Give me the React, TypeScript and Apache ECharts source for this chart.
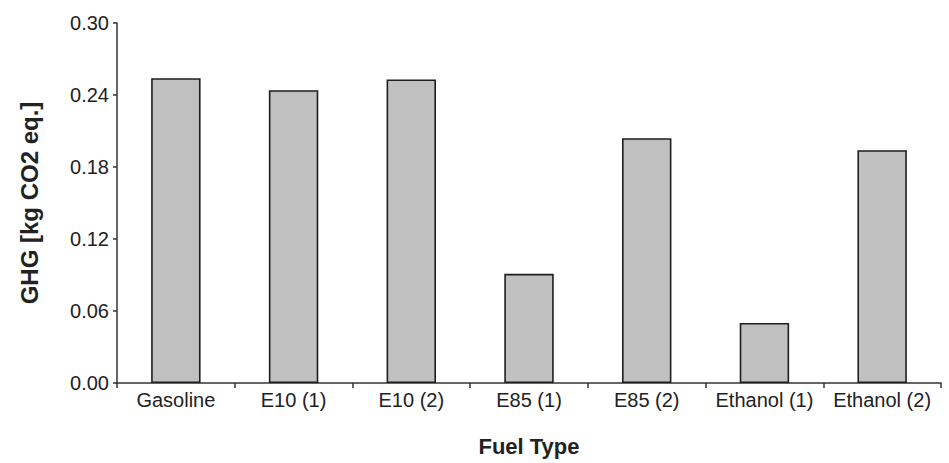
import React, { useEffect, useRef } from "react";
import * as echarts from "echarts";

const categories = ["Gasoline", "E10 (1)", "E10 (2)", "E85 (1)", "E85 (2)", "Ethanol (1)", "Ethanol (2)"];
const ghgValues = [0.254, 0.244, 0.253, 0.091, 0.204, 0.05, 0.194];
const yTicks = { min: 0, max: 0.3, interval: 0.06 };

export default function App() {
  const ref = useRef<HTMLDivElement>(null);
  useEffect(() => {
    if (!ref.current) return;
    const chart = echarts.init(ref.current, undefined, { renderer: "svg" });
    const font = "'Liberation Sans', Arial, sans-serif";
    chart.setOption({
      animation: false,
      backgroundColor: "#ffffff",
      grid: { left: 117, right: 8, top: 23, bottom: 80 },
      xAxis: {
        type: "category",
        data: categories,
        name: "Fuel Type",
        nameLocation: "middle",
        nameGap: 52,
        nameTextStyle: { fontFamily: font, fontSize: 22, fontWeight: "bold", color: "#222" },
        axisLine: { lineStyle: { color: "#333", width: 1.5 } },
        axisTick: { show: true, length: 5, inside: false, lineStyle: { color: "#333", width: 1.5 } },
        axisLabel: { fontFamily: font, fontSize: 20, color: "#222", margin: 7, interval: 0 },
        splitLine: { show: false },
      },
      yAxis: {
        type: "value",
        min: yTicks.min,
        max: yTicks.max,
        interval: yTicks.interval,
        name: "GHG [kg CO2 eq.]",
        nameLocation: "middle",
        nameGap: 76,
        nameRotate: 90,
        nameTextStyle: { fontFamily: font, fontSize: 24, fontWeight: "bold", color: "#222" },
        axisLine: { show: true, lineStyle: { color: "#333", width: 1.5 } },
        axisTick: { show: true, length: 4, lineStyle: { color: "#333", width: 1.5 } },
        axisLabel: {
          fontFamily: font,
          fontSize: 20,
          color: "#222",
          margin: 8,
          formatter: (v: number) => v.toFixed(2),
        },
        splitLine: { show: false },
      },
      series: [
        {
          type: "bar",
          data: ghgValues,
          barWidth: "42%",
          itemStyle: { color: "#c0c0c0", borderColor: "#1e1e1e", borderWidth: 1.6 },
        },
      ],
    });
    return () => chart.dispose();
  }, []);
  return (
    <div
      ref={ref}
      style={{ position: "fixed", left: 0, top: 0, width: 949, height: 463, background: "#fff" }}
    />
  );
}
